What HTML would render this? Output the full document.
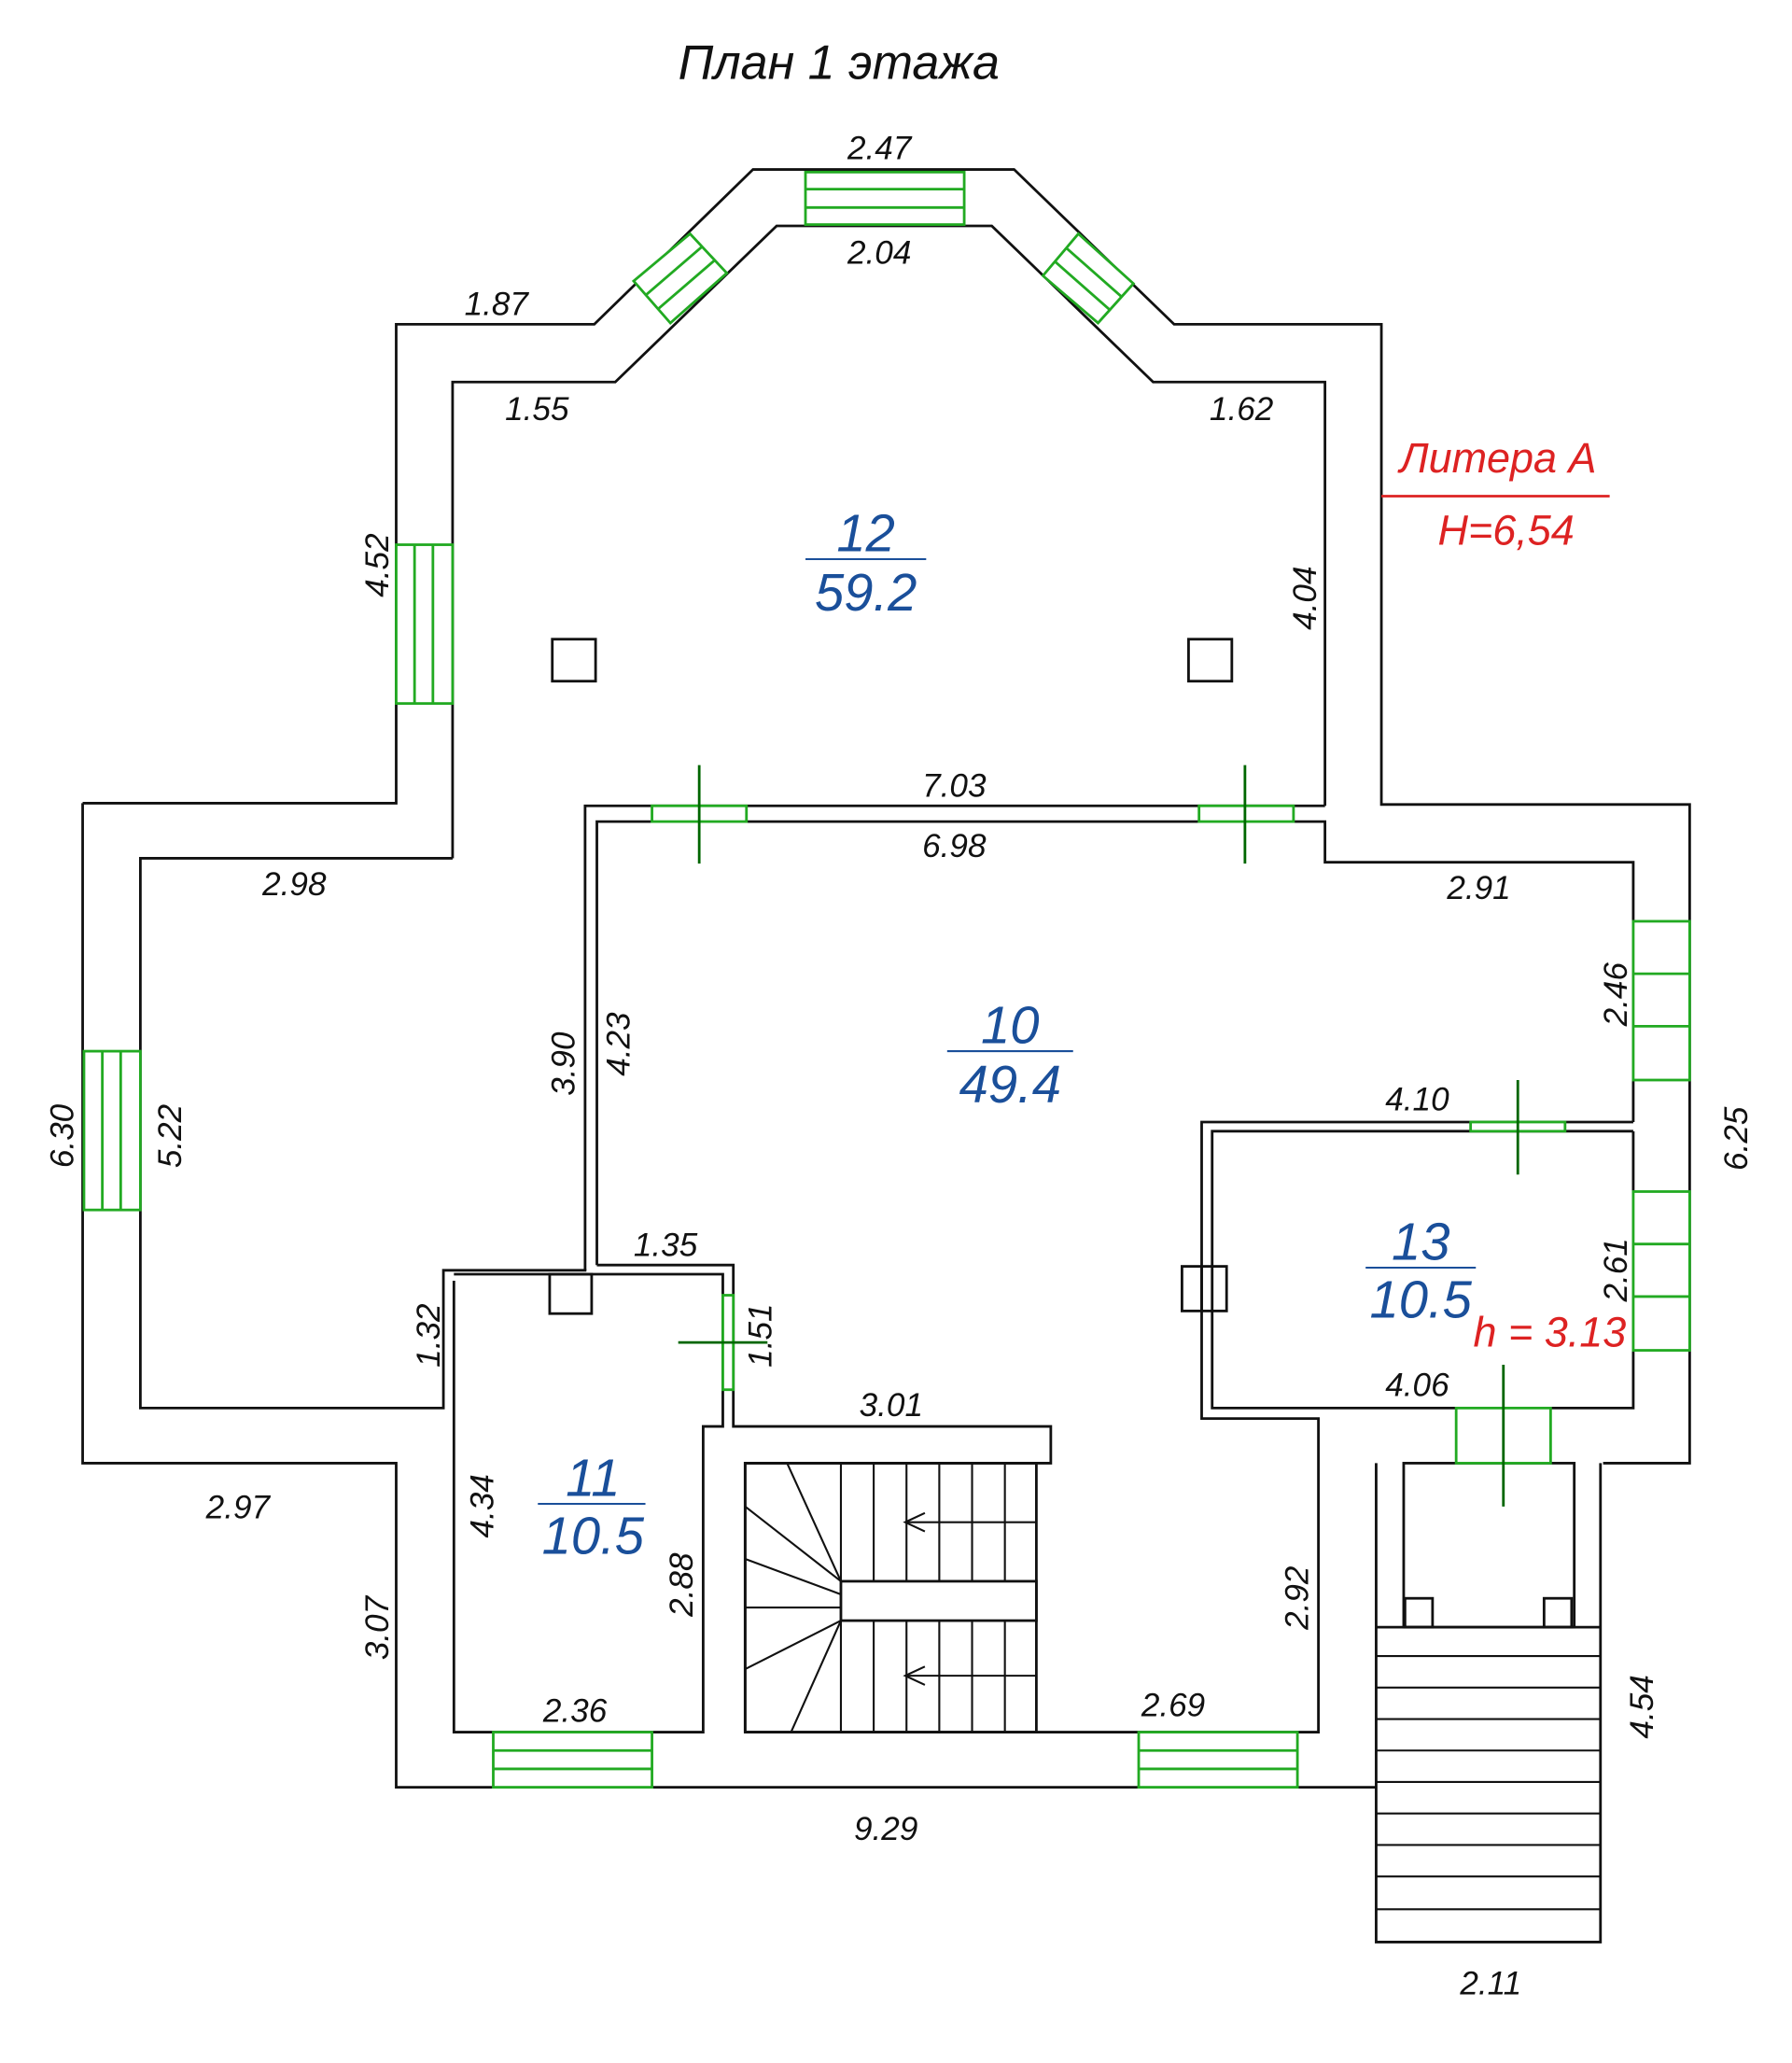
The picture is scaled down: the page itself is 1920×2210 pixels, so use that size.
<!DOCTYPE html>
<html><head><meta charset="utf-8"><style>
html,body{margin:0;padding:0;background:#fff;}
svg{display:block;}
text{font-family:"Liberation Sans",sans-serif;font-style:italic;}
</style></head><body>
<svg width="1920" height="2210" viewBox="0 0 1366 1572" xmlns="http://www.w3.org/2000/svg">
<rect width="1366" height="1572" fill="#fff"/>
<g fill="none" stroke="#111" stroke-width="2">
<polyline points="63,612 302,612 302,247 453,247 574,129 773,129 895,247 1053,247 1053,613 1288,613 1288,1115 1222,1115"/>
<polyline points="63,612 63,1115 302,1115 302,1362 1049,1362"/>
<polyline points="345,654 345,291 469,291 592,172 756,172 879,291 1010,291 1010,614"/>
<polyline points="345,654 107,654 107,1073 338,1073 338,968 447,968"/>
<polyline points="446,968 446,614 1010,614"/>
<polyline points="455,964 455,626 1010,626 1010,657 1245,657 1245,855"/>
<polyline points="1245,855 916,855 916,1081 1005,1081 1005,1320 568,1320"/>
<polyline points="1245,862 924,862 924,1073 1245,1073 1245,862"/>
<polyline points="346,976 346,1320 536,1320 536,1087 551,1087 551,971 346,971"/>
<polyline points="455,964 559,964 559,1087 801,1087 801,1115 568,1115 568,1320"/>
<rect x="419" y="971" width="32" height="30"/>
<rect x="421" y="487" width="33" height="32"/>
<rect x="906" y="487" width="33" height="32"/>
<rect x="901" y="965" width="34" height="34"/>
<line x1="916" y1="965" x2="916" y2="999"/>
<rect x="568" y="1115" width="222" height="205"/>
<rect x="641" y="1205" width="149" height="30"/>
<g stroke-width="1.5">
<line x1="641" y1="1115" x2="641" y2="1320"/>
<line x1="666" y1="1115" x2="666" y2="1205"/><line x1="691" y1="1115" x2="691" y2="1205"/>
<line x1="716" y1="1115" x2="716" y2="1205"/><line x1="741" y1="1115" x2="741" y2="1205"/>
<line x1="766" y1="1115" x2="766" y2="1205"/>
<line x1="666" y1="1235" x2="666" y2="1320"/><line x1="691" y1="1235" x2="691" y2="1320"/>
<line x1="716" y1="1235" x2="716" y2="1320"/><line x1="741" y1="1235" x2="741" y2="1320"/>
<line x1="766" y1="1235" x2="766" y2="1320"/>
<line x1="568" y1="1148" x2="641" y2="1205"/><line x1="600" y1="1115" x2="641" y2="1205"/>
<line x1="568" y1="1188" x2="641" y2="1215"/><line x1="568" y1="1225" x2="641" y2="1225"/>
<line x1="568" y1="1272" x2="641" y2="1235"/><line x1="603" y1="1320" x2="641" y2="1235"/>
<line x1="690" y1="1160" x2="790" y2="1160"/><polyline points="705,1153 690,1160 705,1167"/>
<line x1="690" y1="1277" x2="790" y2="1277"/><polyline points="705,1270 690,1277 705,1284"/>
</g>
<polyline points="1049,1115 1049,1480 1220,1480 1220,1115"/>
<rect x="1070" y="1115" width="130" height="125"/>
<rect x="1071" y="1218" width="21" height="22"/><rect x="1177" y="1218" width="21" height="22"/>
<line x1="1049" y1="1240" x2="1220" y2="1240"/>
<g stroke-width="1.5">
<line x1="1049" y1="1262" x2="1220" y2="1262"/><line x1="1049" y1="1286" x2="1220" y2="1286"/>
<line x1="1049" y1="1310" x2="1220" y2="1310"/><line x1="1049" y1="1334" x2="1220" y2="1334"/>
<line x1="1049" y1="1358" x2="1220" y2="1358"/><line x1="1049" y1="1382" x2="1220" y2="1382"/>
<line x1="1049" y1="1406" x2="1220" y2="1406"/><line x1="1049" y1="1430" x2="1220" y2="1430"/>
<line x1="1049" y1="1455" x2="1220" y2="1455"/>
</g>
<line x1="1053" y1="378" x2="1227" y2="378" stroke="#d22"/>
</g>
<g fill="#fff" stroke="#2a2" stroke-width="2">
<rect x="614" y="131" width="121" height="40"/>
<line x1="614" y1="144" x2="735" y2="144"/><line x1="614" y1="158" x2="735" y2="158"/>
<rect x="302" y="415" width="43" height="121"/>
<line x1="316" y1="415" x2="316" y2="536"/><line x1="330" y1="415" x2="330" y2="536"/>
<rect x="64" y="801" width="43" height="121"/>
<line x1="78" y1="801" x2="78" y2="922"/><line x1="92" y1="801" x2="92" y2="922"/>
<rect x="1245" y="702" width="43" height="121"/>
<line x1="1245" y1="742" x2="1288" y2="742"/><line x1="1245" y1="782" x2="1288" y2="782"/>
<rect x="1245" y="908" width="43" height="121"/>
<line x1="1245" y1="948" x2="1288" y2="948"/><line x1="1245" y1="988" x2="1288" y2="988"/>
<rect x="376" y="1320" width="121" height="42"/>
<line x1="376" y1="1334" x2="497" y2="1334"/><line x1="376" y1="1348" x2="497" y2="1348"/>
<rect x="868" y="1320" width="121" height="42"/>
<line x1="868" y1="1334" x2="989" y2="1334"/><line x1="868" y1="1348" x2="989" y2="1348"/>
<polygon points="483,214 526,178 554,208 511,246"/>
<line x1="492" y1="225" x2="535" y2="188"/><line x1="502" y1="235" x2="545" y2="198"/>
<polygon points="795,210 822,178 864,216 837,246"/>
<line x1="804" y1="199" x2="846" y2="236"/><line x1="813" y1="189" x2="855" y2="226"/>
<rect x="497" y="614" width="72" height="12"/><rect x="914" y="614" width="72" height="12"/>
<rect x="1121" y="855" width="72" height="7"/>
<rect x="1110" y="1073" width="72" height="42"/>
<rect x="551" y="987" width="8" height="72"/>
</g>
<g stroke="#060" stroke-width="2">
<line x1="533" y1="583" x2="533" y2="658"/><line x1="949" y1="583" x2="949" y2="658"/>
<line x1="1157" y1="823" x2="1157" y2="895"/><line x1="1146" y1="1040" x2="1146" y2="1148"/>
<line x1="517" y1="1023" x2="585" y2="1023"/>
</g>
<g fill="#111" font-size="25">
<text x="517" y="60" font-size="37">План 1 этажа</text>
<text x="646" y="121">2.47</text><text x="646" y="201">2.04</text>
<text x="354" y="240">1.87</text><text x="385" y="320">1.55</text>
<text x="922" y="320">1.62</text>
<text x="703" y="607">7.03</text><text x="703" y="653">6.98</text>
<text x="200" y="682">2.98</text><text x="1103" y="685">2.91</text>
<text x="1056" y="846">4.10</text><text x="1056" y="1064">4.06</text>
<text x="483" y="957">1.35</text><text x="655" y="1079">3.01</text>
<text x="157" y="1157">2.97</text><text x="414" y="1312">2.36</text>
<text x="870" y="1308">2.69</text><text x="651" y="1402">9.29</text>
<text x="1113" y="1520">2.11</text>
<g transform="rotate(-90)">
<text x="-455" y="296">4.52</text><text x="-480" y="1003">4.04</text>
<text x="-782" y="1240">2.46</text><text x="-890" y="56">6.30</text>
<text x="-890" y="138">5.22</text><text x="-835" y="438">3.90</text>
<text x="-820" y="480">4.23</text><text x="-892" y="1332">6.25</text>
<text x="-992" y="1240">2.61</text><text x="-1042" y="335">1.32</text>
<text x="-1042" y="588">1.51</text><text x="-1172" y="376">4.34</text>
<text x="-1232" y="528">2.88</text><text x="-1242" y="997">2.92</text>
<text x="-1265" y="296">3.07</text><text x="-1325" y="1260">4.54</text>
</g>
</g>
<g fill="#1a4f9a" font-size="40" text-anchor="middle">
<text x="660" y="420">12</text><text x="660" y="465">59.2</text>
<text x="770" y="795">10</text><text x="770" y="840">49.4</text>
<text x="1083" y="960">13</text><text x="1083" y="1004">10.5</text>
<text x="452" y="1140">11</text><text x="452" y="1184">10.5</text>
</g>
<g stroke="#1a4f9a" stroke-width="1.5">
<line x1="614" y1="426" x2="706" y2="426"/><line x1="722" y1="801" x2="818" y2="801"/>
<line x1="1041" y1="966" x2="1125" y2="966"/><line x1="410" y1="1146" x2="492" y2="1146"/>
</g>
<g fill="#d22" font-size="32">
<text x="1067" y="360">Литера А</text><text x="1096" y="415">H=6,54</text>
<text x="1123" y="1026">h = 3.13</text>
</g>
</svg>
</body></html>
